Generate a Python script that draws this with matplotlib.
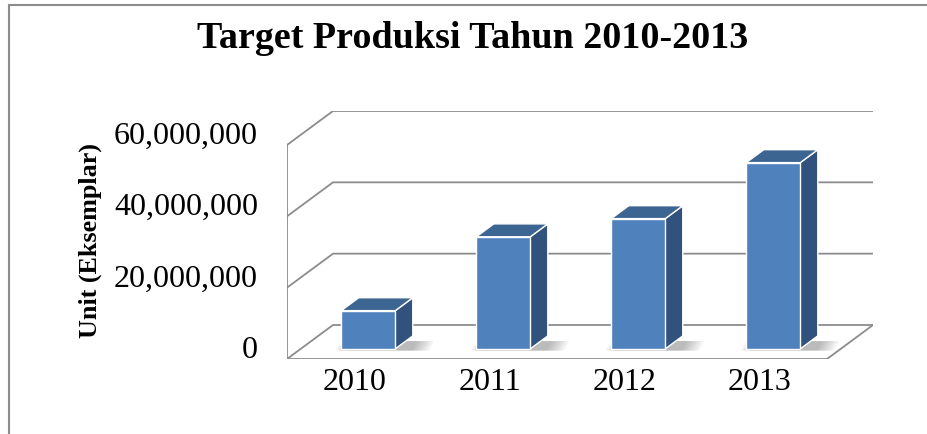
import numpy as np
import matplotlib.pyplot as plt
from matplotlib.patches import Polygon, Rectangle

years = ['2010', '2011', '2012', '2013']
targets = [10.7e6, 31.4e6, 36.5e6, 52.2e6]
grid_levels = [0, 20e6, 40e6, 60e6]

plt.rcParams['font.family'] = ['Liberation Serif', 'DejaVu Serif']

fig = plt.figure(figsize=(9.27, 4.34), dpi=100)
ax = fig.add_axes([287 / 927, (434 - 359) / 434, (873 - 287) / 927, (359 - 111) / 434])

# depth of the 3d box, in data units
DX = 46 / 135
DY = 34 * 60e6 / 214
d0, d1 = 0.3, 0.68
dd = d1 - d0
w = 0.4

ax.set_xlim(-0.5, len(years) - 0.5 + DX)
ax.set_ylim(0, grid_levels[-1] + DY)
ax.axis('off')

gcol = '#8c8c8c'
glw = 1.3
x_l, x_r = -0.5, len(years) - 0.5
# walls and floor
ax.plot([x_l, x_l], [0, grid_levels[-1]], color=gcol, lw=glw, zorder=1)
for v in grid_levels:
    ax.plot([x_l, x_l + DX, x_r + DX], [v, v + DY, v + DY], color=gcol, lw=glw, zorder=1)
ax.plot([x_l, x_r, x_r + DX], [0, 0, DY], color=gcol, lw=glw, zorder=1)

x = np.arange(len(years))
front = '#4f81bd'
side = '#30527c'
top = '#3c6592'

# soft shadows on the floor
for i, v in enumerate(targets):
    x0 = i - w / 2 + d0 * DX
    for k in range(8):
        g = 0.012 * k
        pts = [(x0 - 0.04 + g, d0 * DY - 0.5e6),
               (x0 + w + dd * DX + 0.12 - 1.5 * g, d0 * DY - 0.5e6),
               (x0 + w + dd * DX + 0.12 - 1.5 * g + 0.3 * DX * dd, (d0 + 0.6 * dd) * DY),
               (x0 - 0.04 + g + 0.3 * DX * dd, (d0 + 0.6 * dd) * DY)]
        ax.add_patch(Polygon(pts, closed=True, fc='#555555', ec='none', alpha=0.06, zorder=2))

ax.bar(x + d0 * DX, targets, width=w, bottom=d0 * DY, color=front,
       edgecolor='white', linewidth=1.0, zorder=4)
for i, v in enumerate(targets):
    x0 = i - w / 2 + d0 * DX
    y0 = d0 * DY
    side_pts = [(x0 + w, y0), (x0 + w + dd * DX, y0 + dd * DY),
                (x0 + w + dd * DX, y0 + v + dd * DY), (x0 + w, y0 + v)]
    top_pts = [(x0, y0 + v), (x0 + w, y0 + v),
               (x0 + w + dd * DX, y0 + v + dd * DY), (x0 + dd * DX, y0 + v + dd * DY)]
    ax.add_patch(Polygon(side_pts, closed=True, fc=side, ec='white', lw=1.0, zorder=3))
    ax.add_patch(Polygon(top_pts, closed=True, fc=top, ec='white', lw=1.0, zorder=3))

for v in grid_levels:
    ax.annotate(f'{v:,.0f}', xy=(x_l, v + d0 * DY), xytext=(-29, -9),
                textcoords='offset pixels', ha='right', va='baseline',
                fontsize=23, annotation_clip=False)
for i, yr in enumerate(years):
    ax.annotate(yr, xy=(i, 0), xytext=(0, -24), textcoords='offset pixels',
                ha='center', va='center', fontsize=23, annotation_clip=False)

fig.text(473 / 927, 1 - 39 / 434, 'Target Produksi Tahun 2010-2013',
         ha='center', va='center', fontsize=27.4, fontweight='bold')
fig.text(90 / 927, 1 - 240 / 434, 'Unit (Eksemplar)', rotation=90,
         ha='center', va='center', fontsize=18.8, fontweight='bold')

fig.add_artist(Rectangle((9 / 927, -0.1), 1.2, 1 - 5 / 434 + 0.1, fill=False,
                         ec='#8c8c8c', lw=1.5, transform=fig.transFigure))

fig.savefig('out.png', dpi=100)
